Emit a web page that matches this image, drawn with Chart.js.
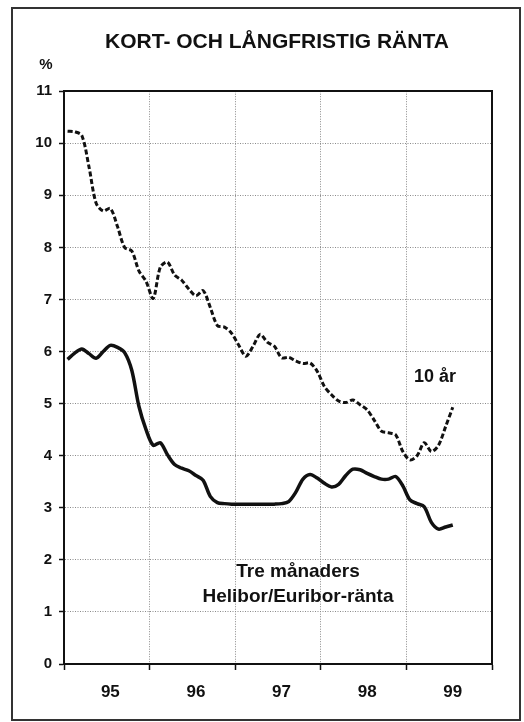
<!DOCTYPE html>
<html>
<head>
<meta charset="utf-8">
<script src="https://cdn.jsdelivr.net/npm/chart.js@4"></script>
<style>
  html, body { margin: 0; padding: 0; background: #fff; }
  #wrap { width: 524px; height: 722px; }
</style>
</head>
<body>
<div id="wrap"><canvas id="myChart" width="524" height="722"></canvas></div>
<script>
// monthly values, jan 1995 - jul 1999
const years = ["95", "96", "97", "98", "99"];
const yTicks = [0, 1, 2, 3, 4, 5, 6, 7, 8, 9, 10, 11];

const rate10y = [
  10.23, 10.22, 10.15, 9.55, 8.85, 8.7, 8.75, 8.4, 8.0, 7.93, 7.55, 7.35,
  7.02, 7.62, 7.72, 7.47, 7.37, 7.2, 7.07, 7.17, 6.85, 6.5, 6.47, 6.35,
  6.12, 5.91, 6.1, 6.33, 6.18, 6.1, 5.88, 5.89, 5.82, 5.77, 5.78, 5.62,
  5.33, 5.17, 5.05, 5.02, 5.07, 4.98, 4.88, 4.68, 4.47, 4.44, 4.4, 4.08,
  3.92, 4.0, 4.25, 4.08, 4.2, 4.56, 4.93,
];
const rate3m = [
  5.85, 5.97, 6.05, 5.96, 5.87, 6.0, 6.12, 6.08, 5.98, 5.64, 4.95, 4.5,
  4.2, 4.25, 4.02, 3.83, 3.76, 3.71, 3.62, 3.53, 3.22, 3.1, 3.08, 3.07,
  3.07, 3.07, 3.07, 3.07, 3.07, 3.07, 3.08, 3.12, 3.3, 3.55, 3.64, 3.57,
  3.47, 3.4, 3.45, 3.62, 3.74, 3.73, 3.66, 3.6, 3.55, 3.55, 3.6, 3.42,
  3.15, 3.08, 3.02, 2.72, 2.59, 2.63, 2.67,
];

const FONT = "'Liberation Sans', Arial, Helvetica, sans-serif";

// each month sits in the middle of its slot on the x scale
const toPoints = (arr) => arr.map((v, i) => ({ x: i + 0.5, y: v }));

// frame round the page, "%" and the two line labels
const extras = {
  id: "extras",
  beforeDraw(chart) {
    const ctx = chart.ctx;
    ctx.save();
    ctx.fillStyle = "#fff";
    ctx.fillRect(0, 0, chart.width, chart.height);
    ctx.strokeStyle = "#333";
    ctx.lineWidth = 2;
    ctx.strokeRect(12, 8, 508, 712);
    ctx.restore();
  },
  afterDraw(chart) {
    const ctx = chart.ctx;
    const x = chart.scales.x;
    const y = chart.scales.y;
    ctx.save();
    ctx.fillStyle = "#111";
    ctx.textBaseline = "middle";
    ctx.textAlign = "center";
    ctx.font = "bold 15px " + FONT;
    ctx.fillText("%", 46, 65);
    ctx.font = "bold 18px " + FONT;
    ctx.fillText("10 år", x.getPixelForValue(52), y.getPixelForValue(5.51));
    ctx.font = "bold 19px " + FONT;
    ctx.fillText("Tre månaders", x.getPixelForValue(32.8), y.getPixelForValue(1.77));
    ctx.fillText("Helibor/Euribor-ränta", x.getPixelForValue(32.8), y.getPixelForValue(1.29));
    ctx.restore();
  },
};

const gridStyle = {
  color: "#8a8a8a",
  lineWidth: 1,
  tickColor: "#111",
  tickWidth: 1.5,
  tickBorderDash: [10, 0],
};

const ctx = document.getElementById("myChart").getContext("2d");
const myChart = new Chart(ctx, {
  type: "line",
  data: {
    datasets: [
      {
        label: "10 år",
        data: toPoints(rate10y),
        borderColor: "#111",
        borderWidth: 3,
        borderDash: [5, 2.5],
        pointRadius: 0,
        tension: 0.3,
        xAxisID: "x",
        yAxisID: "y",
      },
      {
        label: "Tre månaders Helibor/Euribor-ränta",
        data: toPoints(rate3m),
        borderColor: "#111",
        borderWidth: 3.5,
        pointRadius: 0,
        tension: 0.3,
        xAxisID: "x",
        yAxisID: "y",
      },
    ],
  },
  options: {
    responsive: false,
    animation: false,
    layout: { padding: { left: 30, right: 0, top: 0, bottom: 0 } },
    plugins: {
      legend: { display: false },
      tooltip: { enabled: false },
      title: {
        display: true,
        text: "KORT- OCH LÅNGFRISTIG RÄNTA",
        color: "#111",
        font: { family: FONT, size: 21, weight: "bold", lineHeight: 1.2 },
        padding: { top: 30, bottom: 36 },
      },
    },
    scales: {
      x: {
        type: "linear",
        position: "bottom",
        min: 0,
        max: 60,
        ticks: { display: false, stepSize: 12 },
        grid: { ...gridStyle, tickLength: 6 },
        border: { display: true, color: "#111", width: 2, dash: [1, 1.5] },
      },
      xLabels: {
        type: "linear",
        position: "bottom",
        min: 0,
        max: 60,
        afterBuildTicks: (scale) => {
          scale.ticks = years.map((yr, i) => ({ value: i * 12 + 6.5 }));
        },
        afterFit: (scale) => { scale.height = 52; },
        ticks: {
          padding: 12,
          color: "#111",
          font: { family: FONT, size: 17, weight: "bold" },
          maxRotation: 0,
          autoSkip: false,
          callback: (v) => years[Math.round((v - 6.5) / 12)],
        },
        grid: { display: false, drawTicks: false },
        border: { display: false },
      },
      xTop: {
        type: "linear",
        position: "top",
        min: 0,
        max: 60,
        ticks: { display: false },
        grid: { drawOnChartArea: false, drawTicks: false },
        border: { display: true, color: "#111", width: 2 },
      },
      y: {
        type: "linear",
        position: "left",
        min: 0,
        max: 11,
        afterBuildTicks: (scale) => {
          scale.ticks = yTicks.map((v) => ({ value: v }));
        },
        afterFit: (scale) => { scale.width = 34; },
        ticks: {
          padding: 7,
          color: "#111",
          font: { family: FONT, size: 15, weight: "bold" },
        },
        grid: { ...gridStyle, tickLength: 5 },
        border: { display: true, color: "#111", width: 2, dash: [1, 1.5] },
      },
      yRight: {
        type: "linear",
        position: "right",
        min: 0,
        max: 11,
        afterFit: (scale) => { scale.width = 32; },
        ticks: { display: false },
        grid: { drawOnChartArea: false, drawTicks: false },
        border: { display: true, color: "#111", width: 2 },
      },
    },
  },
  plugins: [extras],
});
</script>
</body>
</html>
